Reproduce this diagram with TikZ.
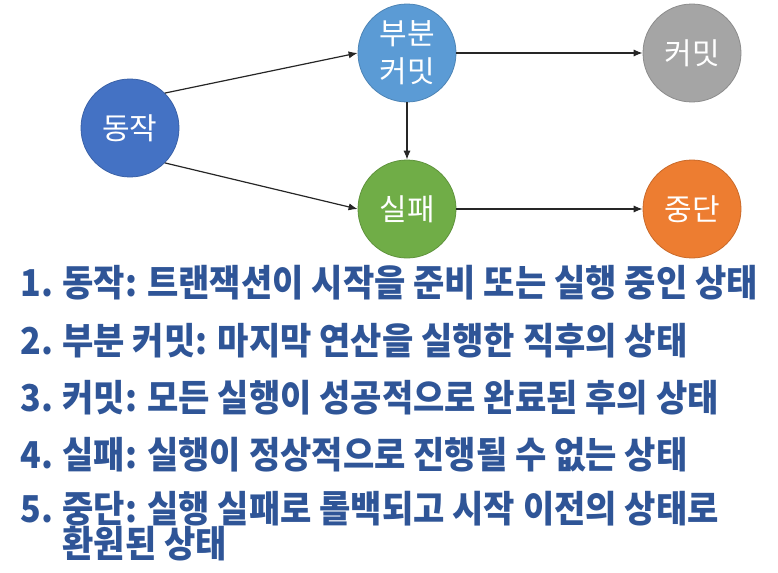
\documentclass[tikz,border=0pt]{standalone}
\usepackage{fontspec}
\usetikzlibrary{arrows.meta}
\newfontfamily\kr{Noto Sans CJK KR}
\newfontfamily\krlist{Noto Sans CJK KR}[FakeStretch=0.92]
\definecolor{cAct}{HTML}{4472C4}
\definecolor{cPart}{HTML}{5B9BD5}
\definecolor{cFail}{HTML}{70AD47}
\definecolor{cCommit}{HTML}{A5A5A5}
\definecolor{cAbort}{HTML}{ED7D31}
\definecolor{cText}{HTML}{2F5597}
\tikzset{
  state/.style={circle, minimum size=49pt, inner sep=0pt, text=white,
    font=\kr\fontsize{15}{19}\selectfont, align=center, draw=#1!85!black, line width=0.4pt, fill=#1},
  conn/.style={-{Latex[length=4.5pt,width=3.6pt]}, line width=0.6pt, black!85},
  item/.style={anchor=west, inner sep=0pt, text=cText, font=\krlist\bfseries\fontsize{18.5}{19}\selectfont}
}
\begin{document}
\begin{tikzpicture}[x=0.5pt,y=-0.5pt]
\useasboundingbox (0,0) rectangle (778,573);
\node[state=cAct] (act) at (130,128) {동작};
\node[state=cPart] (part) at (407,53) {부분\\커밋};
\node[state=cFail] (fail) at (407,209) {실패};
\node[state=cCommit] (commit) at (692,53) {커밋};
\node[state=cAbort] (abort) at (692,209) {중단};
\draw[conn] (act.45) -- (part.west);
\draw[conn] (act.-45) -- (fail.west);
\draw[conn] (part) -- (fail);
\draw[conn] (part) -- (commit);
\draw[conn] (fail) -- (abort);
\node[item] (n1) at (20,283) {1.};
\node[item] (t1) at (62,283) {동작: 트랜잭션이 시작을 준비 또는 실행 중인 상태};
\node[item] (n2) at (20,341) {2.};
\node[item] (t2) at (62,341) {부분 커밋: 마지막 연산을 실행한 직후의 상태};
\node[item] (n3) at (20,398) {3.};
\node[item] (t3) at (62,398) {커밋: 모든 실행이 성공적으로 완료된 후의 상태};
\node[item] (n4) at (20,455) {4.};
\node[item] (t4) at (62,455) {실패: 실행이 정상적으로 진행될 수 없는 상태};
\node[item] (n5) at (20,509) {5.};
\node[item] (t5) at (62,509) {중단: 실행 실패로 롤백되고 시작 이전의 상태로};
\node[item] (t6) at (62,544) {환원된 상태};
\end{tikzpicture}
\end{document}
